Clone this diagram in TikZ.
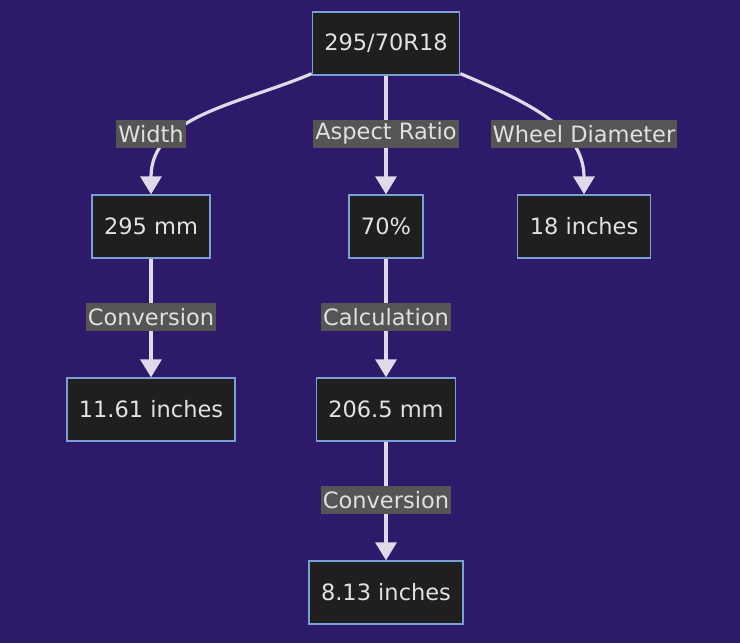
\documentclass[tikz,border=0pt]{standalone}
\usepackage{fontspec}
\setmainfont{DejaVu Sans}
\usetikzlibrary{arrows.meta, positioning}

\definecolor{bgcol}{RGB}{46,26,106}
\definecolor{boxfill}{RGB}{31,31,31}
\definecolor{boxline}{RGB}{122,160,214}
\definecolor{boxtext}{RGB}{226,226,226}
\definecolor{lblfill}{RGB}{85,85,85}
\definecolor{lbltext}{RGB}{224,224,224}
\definecolor{edgecol}{RGB}{222,218,232}

\begin{document}
\begin{tikzpicture}
  [
  x = 1pt, y = 1pt,
  % box
  box/.style = {rectangle,
    draw = boxline, line width = 1.3pt,
    fill = boxfill, text = boxtext,
    font = \fontsize{22.5}{26}\selectfont,
    node distance = 118.7pt,
    inner xsep = 12pt,
    minimum height = 63pt},
  % label
  lbl/.style = {rectangle,
    fill = lblfill, text = lbltext,
    font = \fontsize{22.5}{26}\selectfont,
    node distance = 46.5pt,
    inner xsep = 2pt, inner ysep = 0pt,
    minimum height = 28pt},
  % line
  line/.style = {draw = edgecol, line width = 3.2pt,
    -{Triangle[length=18pt, width=21pt]}},
  ]

  \fill [bgcol] (0,0) rectangle (740,-643);
  \useasboundingbox (0,0) rectangle (740,-643);

  % nodes
  \node [box] (root) at (386,-43.5) {295/70R18};
  \node [box, below= of root, xshift=-235pt] (mm295) {295 mm};
  \node [box, below= of root] (ar70) {70\%};
  \node [box, below= of root, xshift=198pt] (in18) {18 inches};
  \node [box, below= of mm295] (in1161) {11.61 inches};
  \node [box, below= of ar70] (mm2065) {206.5 mm};
  \node [box, below= of mm2065] (in813) {8.13 inches};

  % path
  \path [line] ([yshift=2pt]root.south west) to [out=203, in=90] (mm295.north);
  \path [line] (root) -- (ar70);
  \path [line] ([yshift=2pt]root.south east) to [out=-23, in=90] (in18.north);
  \path [line] (mm295) -- (in1161);
  \path [line] (ar70) -- (mm2065);
  \path [line] (mm2065) -- (in813);

  % labels
  \node [lbl, above= of mm295] (lwidth) {Width};
  \node [lbl, above= of ar70] (lratio) {Aspect Ratio};
  \node [lbl, above= of in18] (ldiam) {Wheel Diameter};
  \node [lbl, above= of in1161] (lconv1) {Conversion};
  \node [lbl, above= of mm2065] (lcalc) {Calculation};
  \node [lbl, above= of in813] (lconv2) {Conversion};

\end{tikzpicture}
\end{document}
